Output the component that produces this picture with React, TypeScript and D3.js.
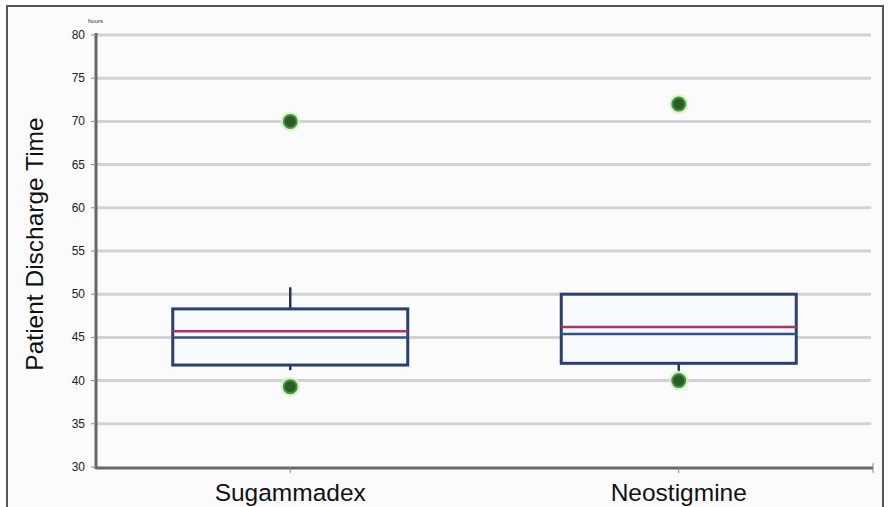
import React, { useEffect, useRef } from 'react';
import * as d3 from 'd3';

const groups = ['Sugammadex', 'Neostigmine'];
const q1 = [41.8, 42.0];
const q3 = [48.3, 50.0];
const medians = [45.7, 46.2];
const means = [45.0, 45.4];
const whiskerLow = [41.2, 41.0];
const whiskerHigh = [50.8, 50.0];
const outliers = [[70, 39.3], [72, 40]];
const yTicks = [30, 35, 40, 45, 50, 55, 60, 65, 70, 75, 80];

const App = () => {
  const ref = useRef<SVGSVGElement>(null);

  useEffect(() => {
    const svg = d3.select(ref.current);
    svg.selectAll('*').remove();
    const font = 'Liberation Sans, Arial, sans-serif';

    // frame
    svg.append('rect').attr('width', 893).attr('height', 507).attr('fill', '#fff');
    svg.append('rect').attr('x', 7).attr('y', 6).attr('width', 876).attr('height', 510)
      .attr('fill', '#fbfbfb').attr('stroke', '#555').attr('stroke-width', 2);

    const left = 96, right = 873, top = 35, bottom = 467;
    const y = d3.scaleLinear().domain([30, 80]).range([bottom, top]);
    const x = d3.scalePoint().domain(groups).range([left, right]).padding(0.5);
    const boxW = 235;

    const g = svg.append('g');

    // grid
    g.selectAll('line.grid').data(yTicks.filter(t => t > 30)).enter().append('line')
      .attr('x1', left).attr('x2', right - 2)
      .attr('y1', d => y(d)).attr('y2', d => y(d))
      .attr('stroke', '#d2d2d2').attr('stroke-width', 3);

    // y axis
    g.append('line').attr('x1', left).attr('x2', left).attr('y1', top - 2).attr('y2', bottom + 2)
      .attr('stroke', '#666').attr('stroke-width', 3);
    g.selectAll('line.yt').data(yTicks).enter().append('line')
      .attr('x1', left - 5).attr('x2', left).attr('y1', d => y(d)).attr('y2', d => y(d))
      .attr('stroke', '#888').attr('stroke-width', 1);
    g.selectAll('text.yl').data(yTicks).enter().append('text')
      .attr('x', left - 11).attr('y', d => y(d) + 4)
      .attr('text-anchor', 'end').attr('font-family', font).attr('font-size', 12)
      .attr('fill', '#222').text(d => d);
    g.append('text').attr('x', 88).attr('y', 23).attr('font-family', font)
      .attr('font-size', 6).attr('fill', '#333').text('hours');

    // x axis
    g.append('line').attr('x1', left).attr('x2', right).attr('y1', bottom + 1).attr('y2', bottom + 1)
      .attr('stroke', '#666').attr('stroke-width', 3);
    g.selectAll('line.xt').data(groups).enter().append('line')
      .attr('x1', d => x(d)!).attr('x2', d => x(d)!).attr('y1', bottom).attr('y2', bottom + 6)
      .attr('stroke', '#888');
    g.append('line').attr('x1', right).attr('x2', right).attr('y1', bottom - 4).attr('y2', bottom + 6)
      .attr('stroke', '#888');
    g.selectAll('text.xl').data(groups).enter().append('text')
      .attr('x', d => x(d)!).attr('y', 501).attr('text-anchor', 'middle')
      .attr('font-family', font).attr('font-size', 24.5).attr('fill', '#111').text(d => d);

    // y title
    g.append('text').attr('transform', `translate(43,${(top + bottom) / 2 - 7}) rotate(-90)`)
      .attr('text-anchor', 'middle').attr('font-family', font).attr('font-size', 24.5)
      .attr('fill', '#111').text('Patient Discharge Time');

    // boxes
    groups.forEach((grp, i) => {
      const cx = x(grp)!;
      g.append('line').attr('x1', cx).attr('x2', cx).attr('y1', y(whiskerHigh[i])).attr('y2', y(q3[i]))
        .attr('stroke', '#2a3550').attr('stroke-width', 2.5);
      g.append('line').attr('x1', cx).attr('x2', cx).attr('y1', y(q1[i])).attr('y2', y(whiskerLow[i]))
        .attr('stroke', '#2a3550').attr('stroke-width', 2.5);
      g.append('rect').attr('x', cx - boxW / 2).attr('y', y(q3[i]))
        .attr('width', boxW).attr('height', y(q1[i]) - y(q3[i]))
        .attr('fill', '#f7fbfc').attr('stroke', '#2b3f70').attr('stroke-width', 3);
      g.append('line').attr('x1', cx - boxW / 2).attr('x2', cx + boxW / 2)
        .attr('y1', y(medians[i])).attr('y2', y(medians[i]))
        .attr('stroke', '#b0306a').attr('stroke-width', 2.5);
      g.append('line').attr('x1', cx - boxW / 2).attr('x2', cx + boxW / 2)
        .attr('y1', y(means[i])).attr('y2', y(means[i]))
        .attr('stroke', '#33508a').attr('stroke-width', 2.5);
      outliers[i].forEach(v => {
        g.append('circle').attr('cx', cx).attr('cy', y(v)).attr('r', 10).attr('fill', '#dcefc8').attr('opacity', 0.8);
        g.append('circle').attr('cx', cx).attr('cy', y(v)).attr('r', 6.5)
          .attr('fill', '#2d5a2a').attr('stroke', '#3d9a3a').attr('stroke-width', 2);
      });
    });
  }, []);

  return <svg ref={ref} width={893} height={507} style={{ position: 'absolute', left: 0, top: 0 }}></svg>;
};

export default App;
